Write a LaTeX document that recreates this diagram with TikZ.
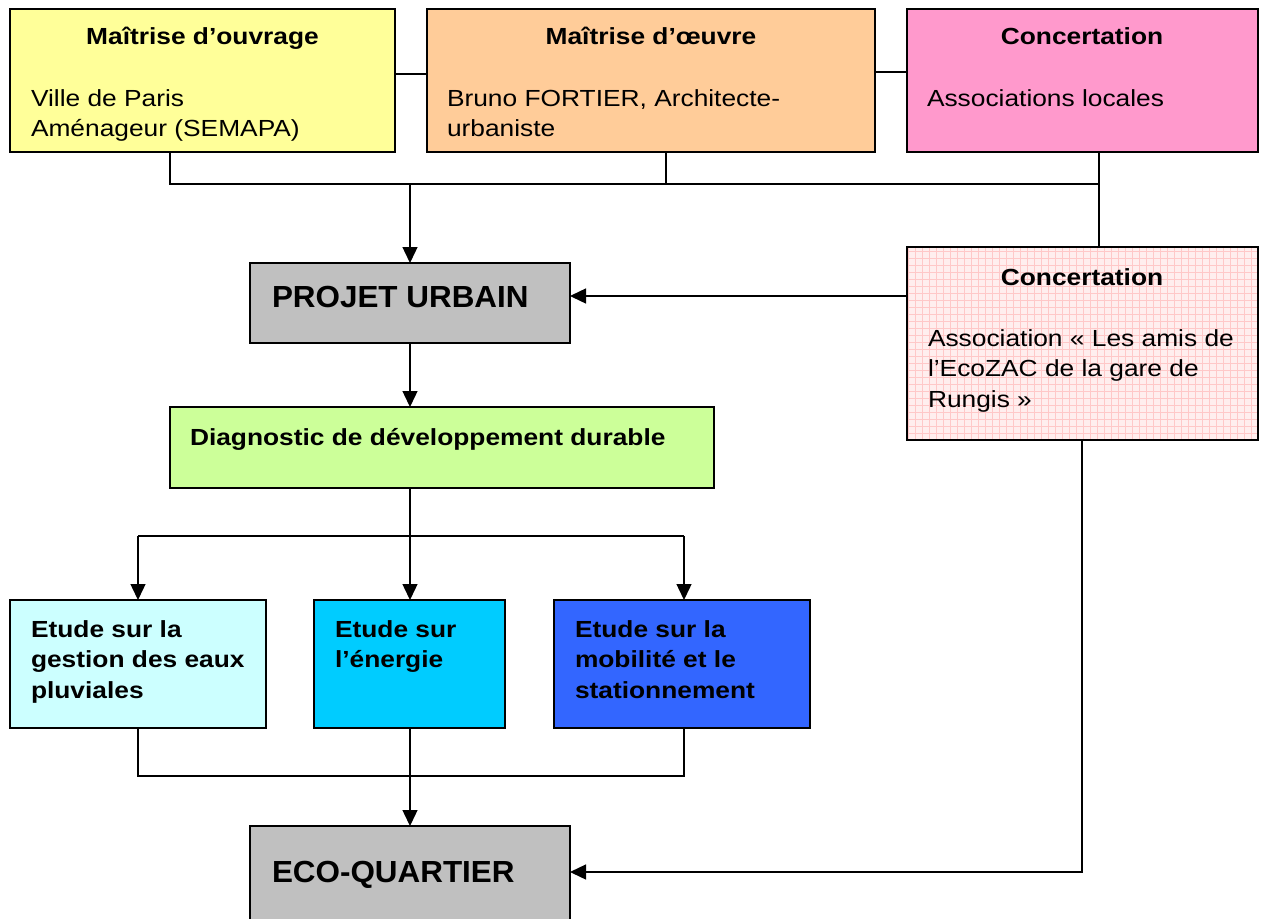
\documentclass[tikz,border=0pt]{standalone}
\usepackage{fontspec}
\setmainfont{Liberation Sans}[FakeStretch=1.13]
\newfontfamily\bigfam{Liberation Sans}[FakeStretch=1.03]
\usetikzlibrary{arrows.meta}
\definecolor{cYellow}{HTML}{FFFF99}
\definecolor{cOrange}{HTML}{FFCC99}
\definecolor{cPink}{HTML}{FF99CC}
\definecolor{cGray}{HTML}{C0C0C0}
\definecolor{cLightPink}{HTML}{FFEEEE}
\definecolor{cGridPink}{HTML}{FFC8C8}
\definecolor{cGreen}{HTML}{CCFF99}
\definecolor{cCyanLight}{HTML}{CCFFFF}
\definecolor{cCyan}{HTML}{00CCFF}
\definecolor{cBlue}{HTML}{3366FF}
\tikzset{
  box/.style={draw=black, line width=1.8pt, rectangle, inner sep=0pt, outer sep=0pt, anchor=north west},
  txt/.style={inner sep=0pt, outer sep=0pt, anchor=base west, font=\fontsize{23.3}{30.6}\selectfont},
  ttl/.style={inner sep=0pt, outer sep=0pt, anchor=base, font=\fontsize{23.3}{30.6}\selectfont\bfseries},
  btxt/.style={inner sep=0pt, outer sep=0pt, anchor=base west, font=\fontsize{23.3}{30.6}\selectfont\bfseries},
  big/.style={inner sep=0pt, outer sep=0pt, anchor=base west, font=\bigfam\fontsize{30.5}{36}\selectfont\bfseries},
  conn/.style={draw=black, line width=1.4pt},
  arr/.style={conn, -{Triangle[length=16pt,width=15pt]}},
  gridline/.style={draw=cGridPink, line width=0.5pt}
}
\begin{document}
\begin{tikzpicture}[x=1pt,y=-1pt]
\clip (0,0) rectangle (1262,919);
\fill[white] (0,0) rectangle (1262,919);

% top boxes
\node[box, fill=cYellow, minimum width=385pt, minimum height=143pt] (A) at (10,9) {};
\node[box, fill=cOrange, minimum width=448pt, minimum height=143pt] (B) at (427,9) {};
\node[box, fill=cPink, minimum width=351pt, minimum height=143pt] (C) at (907,9) {};

\node[ttl] (At) at (202.5,44.5) {Maîtrise d’ouvrage};
\node[txt] (A1) at (31,106) {Ville de Paris};
\node[txt] (A2) at (31,136.7) {Aménageur (SEMAPA)};

\node[ttl] (Bt) at (651,44.5) {Maîtrise d’œuvre};
\node[txt] (B1) at (447,106) {Bruno FORTIER, Architecte-};
\node[txt] (B2) at (447,136.7) {urbaniste};

\node[ttl] (Ct) at (1082,44.5) {Concertation};
\node[txt] (C1) at (927,106) {Associations locales};

% projet urbain
\node[box, fill=cGray, minimum width=320pt, minimum height=80pt] (PU) at (250,263) {};
\node[big] (PUt) at (272,307) {PROJET URBAIN};

% concertation 2 with grid
\node[box, draw=none, fill=cLightPink, minimum width=351pt, minimum height=193pt] (C2) at (907,247) {};
\begin{scope}
  \clip (C2.north west) rectangle (C2.south east);
  \foreach \gx in {908,915,...,1260} {\draw[gridline] (\gx,247) -- (\gx,440);}
  \foreach \gy in {251,258,...,440} {\draw[gridline] (907,\gy) -- (1258,\gy);}
\end{scope}
\draw[black, line width=1.8pt] (C2.north west) rectangle (C2.south east);
\node[ttl] (C2t) at (1082,285) {Concertation};
\node[txt] (C21) at (928,346.7) {Association « Les amis de};
\node[txt] (C22) at (928,376.9) {l’EcoZAC de la gare de};
\node[txt] (C23) at (928,407) {Rungis »};

% diagnostic
\node[box, fill=cGreen, minimum width=544pt, minimum height=81pt] (D) at (170,407) {};
\node[btxt] (Dt) at (190,445) {Diagnostic de développement durable};

% studies
\node[box, fill=cCyanLight, minimum width=256pt, minimum height=128pt] (E1) at (10,600) {};
\node[box, fill=cCyan, minimum width=191pt, minimum height=128pt] (E2) at (314,600) {};
\node[box, fill=cBlue, minimum width=256pt, minimum height=128pt] (E3) at (554,600) {};

\node[btxt] (E1a) at (31,637) {Etude sur la};
\node[btxt] (E1b) at (31,667.6) {gestion des eaux};
\node[btxt] (E1c) at (31,698.2) {pluviales};
\node[btxt] (E2a) at (335,637) {Etude sur};
\node[btxt] (E2b) at (335,667.6) {l’énergie};
\node[btxt] (E3a) at (575,637) {Etude sur la};
\node[btxt] (E3b) at (575,667.6) {mobilité et le};
\node[btxt] (E3c) at (575,698.2) {stationnement};

% eco-quartier
\node[box, fill=cGray, minimum width=320pt, minimum height=120pt] (EQ) at (250,826) {};
\node[big] (EQt) at (272,882) {ECO-QUARTIER};

% junction coordinates
\coordinate (jA) at (170,184);
\coordinate (jB) at (666,184);
\coordinate (jC) at (1099,184);
\coordinate (jM) at (410,184);
\coordinate (jAB) at (411,74);
\coordinate (jBC) at (891,72);
\coordinate (dL) at (138,536);
\coordinate (dM) at (410,536);
\coordinate (dR) at (684,536);
\coordinate (bL) at (138,776);
\coordinate (bM) at (410,776);
\coordinate (bR) at (684,776);
\coordinate (cD) at (1082,872);

% connectors top
\draw[conn] (A.east |- jAB) -- (B.west |- jAB);
\draw[conn] (B.east |- jBC) -- (C.west |- jBC);
\draw[conn] (A.south -| jA) -- (jA) -- (jC);
\draw[conn] (B.south -| jB) -- (jB);
\draw[conn] (C.south -| jC) -- (C2.north -| jC);
\draw[arr] (jM) -- (PU.north -| jM);
\draw[arr] (C2.west |- 0,296) -- (PU.east |- 0,296);
\draw[arr] (PU.south -| jM) -- (D.north -| jM);

% diagnostic to studies
\draw[conn] (D.south -| dM) -- (dM);
\draw[conn] (dL) -- (dR);
\draw[arr] (dL) -- (E1.north -| dL);
\draw[arr] (dM) -- (E2.north -| dM);
\draw[arr] (dR) -- (E3.north -| dR);

% studies to eco-quartier
\draw[conn] (E1.south -| bL) -- (bL) -- (bR) -- (E3.south -| bR);
\draw[arr] (E2.south -| bM) -- (EQ.north -| bM);

% concertation 2 to eco-quartier
\draw[arr] (C2.south -| cD) -- (cD) -- (EQ.east |- cD);
\end{tikzpicture}
\end{document}
